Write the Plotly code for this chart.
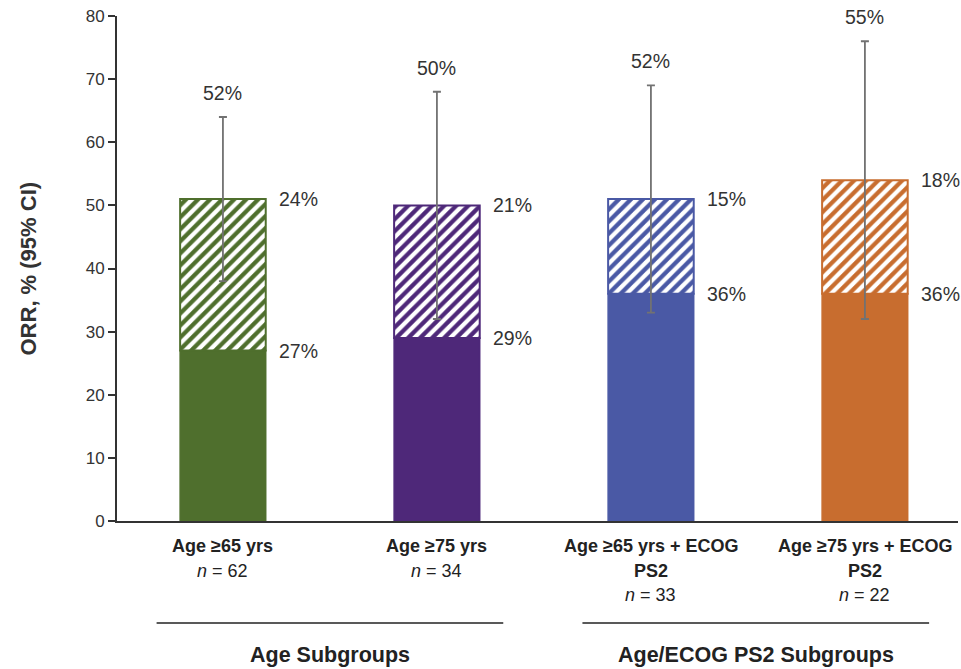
import plotly.graph_objects as go

# ---- data ----
categories = ["Age ≥65 yrs", "Age ≥75 yrs", "Age ≥65 yrs + ECOG<br>PS2", "Age ≥75 yrs + ECOG<br>PS2"]
n_values = [62, 34, 33, 22]
solid_values = [27, 29, 36, 36]       # lower (solid) segment
hatched_values = [24, 21, 15, 18]     # upper (hatched) segment
total_labels = [52, 50, 52, 55]       # ORR labels
ci_low = [38, 32, 33, 32]
ci_high = [64, 68, 69, 76]
group_names = ["Age Subgroups", "Age/ECOG PS2 Subgroups"]
y_ticks = [0, 10, 20, 30, 40, 50, 60, 70, 80]

colors = ["#4f6f2d", "#4e2879", "#4a59a5", "#c86d2f"]

x = list(range(len(categories)))
totals = [s + h for s, h in zip(solid_values, hatched_values)]

PLOT_H = 505  # plot area height in px (for paper conversion)

fig = go.Figure()

fig.add_trace(go.Bar(
    x=x, y=solid_values, width=0.40,
    marker=dict(color=colors, line=dict(color=colors, width=1.5)),
    showlegend=False, hoverinfo="skip",
))
fig.add_trace(go.Bar(
    x=x, y=hatched_values, base=solid_values, width=0.40,
    marker=dict(
        color="white",
        line=dict(color=colors, width=2),
        pattern=dict(shape="/", fgcolor=colors, bgcolor="white", fgopacity=1,
                     size=8.5, solidity=0.5),
    ),
    showlegend=False, hoverinfo="skip",
))
# error bars centred on total
fig.add_trace(go.Scatter(
    x=x, y=totals, mode="markers",
    marker=dict(size=0.1, color="rgba(0,0,0,0)"),
    error_y=dict(
        type="data", symmetric=False,
        array=[h - t for h, t in zip(ci_high, totals)],
        arrayminus=[t - l for t, l in zip(totals, ci_low)],
        color="#727272", thickness=1.8, width=4,
    ),
    showlegend=False, hoverinfo="skip",
))

FONT = "Liberation Sans, Arial, sans-serif"
pct_font = dict(family=FONT, size=19.5, color="#333333")
cat_font = dict(family=FONT, size=18, color="#222222")
grp_font = dict(family=FONT, size=21.5, color="#222222")

ann = []
for i in x:
    ann.append(dict(x=i, y=ci_high[i], xref="x", yref="y", text=f"{total_labels[i]}%",
                    showarrow=False, yshift=24, font=pct_font, yanchor="middle"))
    ann.append(dict(x=i + 0.252, y=totals[i], xref="x", yref="y", text=f"{hatched_values[i]}%",
                    showarrow=False, xanchor="left", yanchor="middle", font=pct_font))
    ann.append(dict(x=i + 0.252, y=solid_values[i], xref="x", yref="y", text=f"{solid_values[i]}%",
                    showarrow=False, xanchor="left", yanchor="middle", font=pct_font))
    # category label lines (below axis), pixel offsets below plot bottom
    lines = [f"<b>{p}</b>" for p in categories[i].split("<br>")] + [f"<i>n</i> = {n_values[i]}"]
    for k, line in enumerate(lines):
        ann.append(dict(x=i, y=0, xref="x", yref="paper", text=line, showarrow=False,
                        yanchor="middle", yshift=-(25 + 24.5 * k), font=cat_font))

group_spans = [(-0.31, 1.31), (1.68, 3.30)]
shapes = []
for (a, b), name in zip(group_spans, group_names):
    shapes.append(dict(type="line", xref="x", yref="paper", x0=a, x1=b,
                       y0=-102 / PLOT_H, y1=-102 / PLOT_H,
                       line=dict(color="#222222", width=1.6)))
    ann.append(dict(x=(a + b) / 2, y=0, xref="x", yref="paper", text=f"<b>{name}</b>",
                    showarrow=False, yanchor="middle", yshift=-134, font=grp_font))

# y-axis title
ann.append(dict(x=0, y=0.5, xref="paper", yref="paper", text="<b>ORR, % (95% CI)</b>",
                textangle=-90, showarrow=False, xanchor="center", yanchor="middle", xshift=-89,
                font=dict(family=FONT, size=22, color="#333333")))

fig.update_layout(
    width=961, height=669,
    margin=dict(l=117, r=3, t=16, b=148),
    paper_bgcolor="white", plot_bgcolor="white",
    barmode="overlay",
    annotations=ann, shapes=shapes,
    xaxis=dict(range=[-0.495, 3.435], showticklabels=False, ticks="", showgrid=False,
               zeroline=False, showline=True, linecolor="#333333", linewidth=2),
    yaxis=dict(range=[0, 80], tickvals=y_ticks, ticks="outside", ticklen=7, tickwidth=2,
               tickcolor="#333333", showgrid=False, zeroline=False, showline=True,
               linecolor="#333333", linewidth=2,
               tickfont=dict(family=FONT, size=17, color="#333333")),
)

fig.write_html("out.html", config={"displayModeBar": False},
               post_script="document.body.style.margin='0';document.body.style.overflow='hidden';")
